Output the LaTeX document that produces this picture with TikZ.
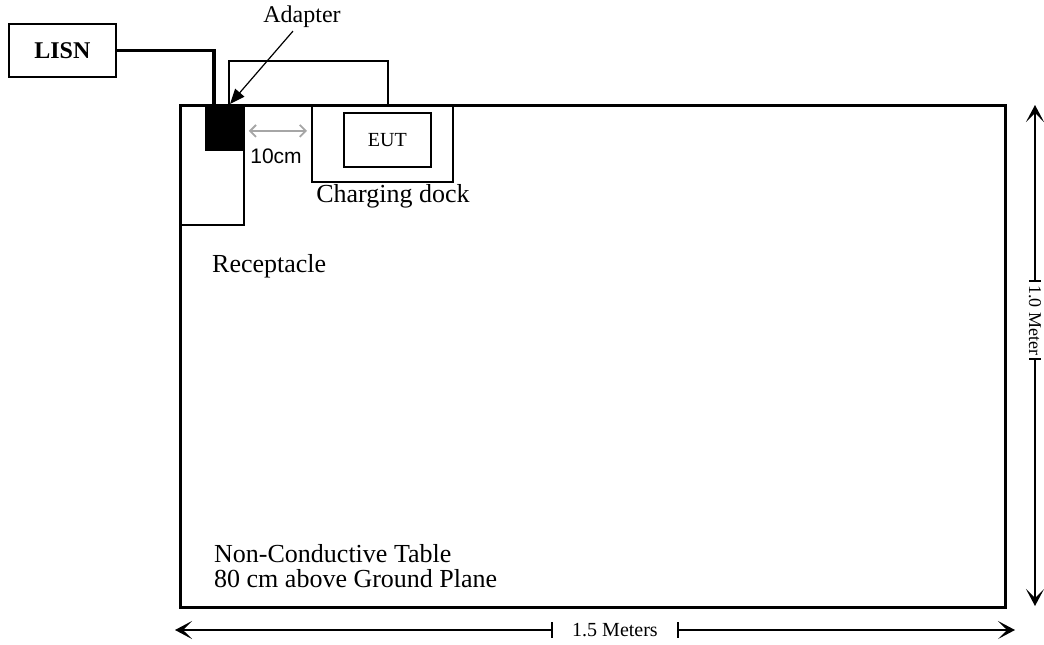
\documentclass[tikz,border=0pt]{standalone}
\usepackage{fontspec}
\setmainfont{Liberation Serif}
\newfontfamily\arialf{Liberation Sans}
\usetikzlibrary{arrows.meta}
\begin{document}
\begin{tikzpicture}[x=1pt,y=-1pt,
  box/.style={draw, line width=1.8pt, inner sep=0pt, anchor=north west},
  txt/.style={inner sep=0pt, font=\fontsize{26}{28}\selectfont},
  dim/.style={line width=1.6pt},
  dimtip/.style={-{Stealth[length=17pt,width=18pt,inset=9pt]}}]
\useasboundingbox (0,0) rectangle (1044,645);
% boxes
\node[box, minimum width=107pt, minimum height=53pt, font=\fontsize{24}{26}\selectfont\bfseries] (lisn) at (8,23) {LISN};
\node[box, line width=3.2pt, minimum width=825pt, minimum height=502pt] (table) at (179,104) {};
\node[box, minimum width=64pt, minimum height=120pt] (rec) at (179,104) {};
\node[box, fill=black, minimum width=38pt, minimum height=45pt] (adapter) at (205,104) {};
\node[box, minimum width=141pt, minimum height=77pt] (dock) at (311,104) {};
\node[box, minimum width=87pt, minimum height=54pt] (eut) at (343,112) {};
\node[txt, font=\fontsize{20}{22}\selectfont] (eutl) at (eut.center) {EUT};
% cables
\draw[line width=3.2pt] (lisn.east) -| ([xshift=9pt]adapter.north west);
\draw[line width=1.8pt] ([xshift=24pt]adapter.north west) -- ++(0,-43) -| ([xshift=77pt]dock.north west);
% labels
\node[txt, font=\fontsize{24}{26}\selectfont] (adl) at (302,17) {Adapter};
\draw[line width=1.2pt, -{Triangle[length=15pt,width=12pt]}] ([xshift=-9pt,yshift=-3pt]adl.south) -- ([xshift=25pt]adapter.north west);
\draw[gray!70, line width=1.8pt, {Straight Barb[length=6pt,width=12pt]}-{Straight Barb[length=6pt,width=12pt]}] ([xshift=4pt,yshift=-3.5pt]adapter.east) -- ([xshift=-4pt,yshift=12.5pt]dock.west);
\node[txt, font=\arialf\fontsize{21}{24}\selectfont] (tencm) at (276,156) {10cm};
\node[txt] (dockl) at (393,196) {Charging dock};
\node[txt, anchor=west] (recl) at (212,266) {Receptacle};
\node[txt, anchor=north west, align=left, font=\fontsize{26}{25}\selectfont] (tabl) at (214,544) {Non-Conductive Table\\80 cm above Ground Plane};
% vertical dimension
\node[txt, rotate=-90, font=\fontsize{18}{20}\selectfont] (vlab) at (1035,320) {1.0 Meter};
\coordinate (vt) at (1035,105);
\coordinate (vb) at (1035,606);
\draw[dim, dimtip] ([yshift=4pt]vlab.west) -- (vt);
\draw[dim, dimtip] ([yshift=-4pt]vlab.east) -- (vb);
\draw[dim] ([shift={(-6pt,4pt)}]vlab.west) -- ++(12,0);
\draw[dim] ([shift={(-6pt,-4pt)}]vlab.east) -- ++(12,0);
% horizontal dimension
\node[txt, font=\fontsize{20}{22}\selectfont] (hlab) at (615,630) {1.5 Meters};
\coordinate (hl) at (175,630);
\coordinate (hr) at (1015,630);
\draw[dim, dimtip] ([xshift=-20pt]hlab.west) -- (hl);
\draw[dim, dimtip] ([xshift=20pt]hlab.east) -- (hr);
\draw[dim] ([xshift=-20pt,yshift=8pt]hlab.west) -- ++(0,16);
\draw[dim] ([xshift=20pt,yshift=8pt]hlab.east) -- ++(0,16);
\end{tikzpicture}
\end{document}
